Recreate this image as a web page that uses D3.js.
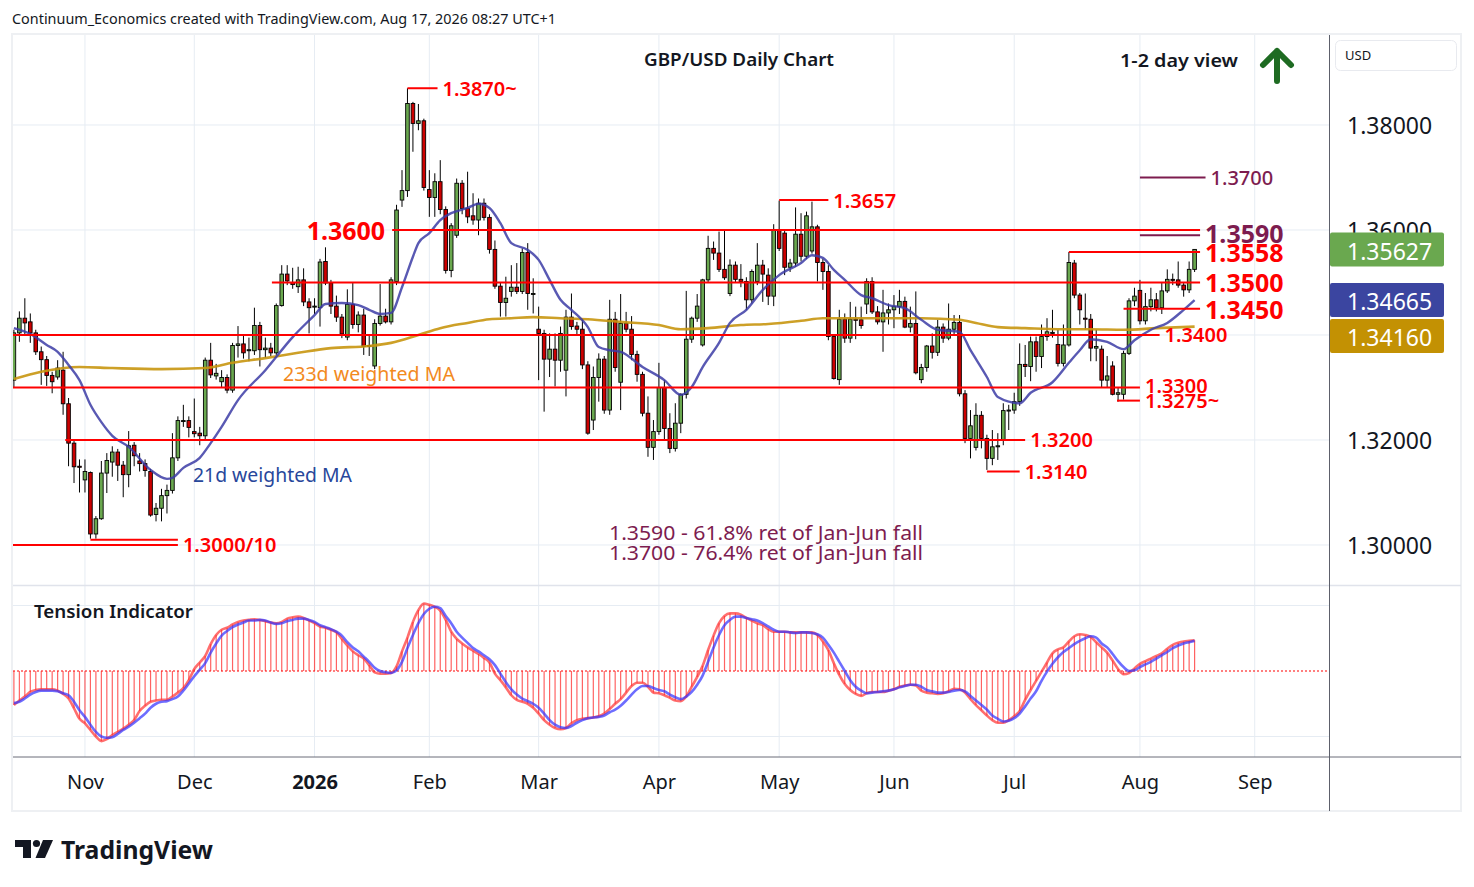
<!DOCTYPE html>
<html>
<head>
<meta charset="utf-8">
<script src="https://d3js.org/d3.v7.min.js"></script>
<style>
  body { margin: 0; background: #fff; }
  svg { display: block; font-family: "Noto Sans", "Open Sans", sans-serif; }
</style>
</head>
<body>
<div class="chart"></div>
<script>
// daily GBP/USD bars, Oct 15 2025 .. Aug 17 2026, [open, high, low, close]
const candles = [
[1.3314,1.3410,1.3300,1.3404],[1.3404,1.3445,1.3387,1.3432],[1.3432,1.3470,1.3400,1.3423],[1.3425,1.3441,1.3385,1.3404],
[1.3404,1.3410,1.3362,1.3368],[1.3368,1.3378,1.3305,1.3353],[1.3353,1.3360,1.3303,1.3323],[1.3323,1.3330,1.3289,1.3311],
[1.3320,1.3352,1.3315,1.3337],[1.3333,1.3368,1.3248,1.3269],[1.3269,1.3280,1.3150,1.3194],[1.3194,1.3200,1.3118,1.3149],
[1.3150,1.3163,1.3100,1.3148],[1.3124,1.3163,1.3100,1.3140],[1.3138,1.3140,1.3012,1.3021],[1.3021,1.3055,1.3012,1.3050],
[1.3050,1.3160,1.3048,1.3137],[1.3137,1.3175,1.3099,1.3161],[1.3158,1.3188,1.3130,1.3177],[1.3177,1.3183,1.3122,1.3152],
[1.3152,1.3160,1.3091,1.3134],[1.3134,1.3217,1.3110,1.3189],[1.3190,1.3196,1.3150,1.3170],[1.3160,1.3175,1.3140,1.3155],
[1.3155,1.3163,1.3130,1.3142],[1.3140,1.3145,1.3054,1.3057],[1.3058,1.3080,1.3045,1.3070],[1.3070,1.3107,1.3045,1.3094],
[1.3094,1.3115,1.3060,1.3104],[1.3104,1.3213,1.3098,1.3166],[1.3166,1.3245,1.3160,1.3237],[1.3237,1.3267,1.3225,1.3237],
[1.3237,1.3245,1.3205,1.3224],[1.3216,1.3279,1.3205,1.3212],[1.3213,1.3225,1.3190,1.3208],[1.3208,1.3357,1.3200,1.3352],
[1.3352,1.3385,1.3318,1.3324],[1.3322,1.3345,1.3315,1.3327],[1.3311,1.3333,1.3300,1.3319],[1.3319,1.3325,1.3289,1.3295],
[1.3295,1.3385,1.3290,1.3380],[1.3380,1.3417,1.3357,1.3383],[1.3383,1.3400,1.3355,1.3366],[1.3370,1.3395,1.3350,1.3372],
[1.3370,1.3452,1.3362,1.3418],[1.3418,1.3425,1.3340,1.3372],[1.3372,1.3395,1.3356,1.3375],[1.3375,1.3385,1.3360,1.3366],
[1.3366,1.3460,1.3362,1.3456],[1.3456,1.3533,1.3454,1.3516],[1.3516,1.3533,1.3495,1.3503],[1.3500,1.3528,1.3488,1.3496],
[1.3492,1.3530,1.3480,1.3505],[1.3505,1.3527,1.3455,1.3463],[1.3463,1.3470,1.3403,1.3452],[1.3455,1.3470,1.3440,1.3455],
[1.3452,1.3545,1.3416,1.3539],[1.3540,1.3567,1.3495,1.3499],[1.3499,1.3505,1.3440,1.3455],[1.3455,1.3475,1.3425,1.3434],
[1.3434,1.3440,1.3394,1.3402],[1.3396,1.3487,1.3390,1.3458],[1.3458,1.3499,1.3412,1.3420],[1.3420,1.3445,1.3405,1.3438],
[1.3438,1.3450,1.3362,1.3378],[1.3380,1.3400,1.3360,1.3378],[1.3341,1.3430,1.3335,1.3422],[1.3422,1.3497,1.3418,1.3436],
[1.3436,1.3450,1.3422,1.3425],[1.3425,1.3510,1.3420,1.3505],[1.3502,1.3648,1.3495,1.3638],[1.3657,1.3714,1.3644,1.3675],
[1.3675,1.3870,1.3663,1.3841],[1.3841,1.3844,1.3749,1.3803],[1.3803,1.3840,1.3790,1.3808],[1.3808,1.3812,1.3675,1.3681],
[1.3677,1.3714,1.3625,1.3662],[1.3662,1.3708,1.3625,1.3692],[1.3692,1.3733,1.3630,1.3639],[1.3639,1.3645,1.3517,1.3523],
[1.3523,1.3613,1.3510,1.3608],[1.3590,1.3698,1.3585,1.3689],[1.3689,1.3695,1.3630,1.3641],[1.3641,1.3711,1.3613,1.3625],
[1.3627,1.3670,1.3610,1.3619],[1.3619,1.3660,1.3590,1.3651],[1.3651,1.3660,1.3618,1.3624],[1.3624,1.3630,1.3555,1.3563],
[1.3563,1.3580,1.3488,1.3493],[1.3493,1.3500,1.3435,1.3462],[1.3462,1.3511,1.3435,1.3470],[1.3483,1.3533,1.3473,1.3491],
[1.3491,1.3537,1.3478,1.3483],[1.3483,1.3565,1.3478,1.3557],[1.3557,1.3575,1.3448,1.3479],[1.3479,1.3508,1.3441,1.3479],
[1.3411,1.3454,1.3314,1.3403],[1.3403,1.3410,1.3254,1.3354],[1.3354,1.3403,1.3320,1.3373],[1.3373,1.3403,1.3302,1.3352],
[1.3352,1.3416,1.3330,1.3403],[1.3333,1.3448,1.3283,1.3434],[1.3434,1.3479,1.3410,1.3416],[1.3417,1.3425,1.3400,1.3411],
[1.3411,1.3430,1.3335,1.3343],[1.3343,1.3350,1.3210,1.3213],[1.3238,1.3340,1.3219,1.3319],[1.3319,1.3365,1.3273,1.3354],
[1.3354,1.3360,1.3250,1.3257],[1.3257,1.3467,1.3248,1.3430],[1.3430,1.3444,1.3330,1.3338],[1.3310,1.3478,1.3257,1.3422],
[1.3422,1.3444,1.3405,1.3411],[1.3411,1.3436,1.3352,1.3363],[1.3363,1.3370,1.3311,1.3325],[1.3325,1.3330,1.3245,1.3251],
[1.3251,1.3283,1.3168,1.3186],[1.3186,1.3238,1.3162,1.3216],[1.3216,1.3347,1.3210,1.3300],[1.3300,1.3314,1.3200,1.3222],
[1.3222,1.3251,1.3175,1.3184],[1.3184,1.3270,1.3178,1.3232],[1.3232,1.3289,1.3213,1.3287],[1.3287,1.3484,1.3279,1.3392],
[1.3392,1.3435,1.3385,1.3432],[1.3432,1.3478,1.3425,1.3455],[1.3381,1.3507,1.3378,1.3505],[1.3505,1.3589,1.3500,1.3565],
[1.3565,1.3578,1.3543,1.3556],[1.3556,1.3597,1.3520,1.3525],[1.3525,1.3600,1.3505,1.3509],[1.3479,1.3544,1.3474,1.3533],
[1.3533,1.3540,1.3500,1.3506],[1.3506,1.3535,1.3491,1.3502],[1.3502,1.3510,1.3448,1.3467],[1.3467,1.3525,1.3460,1.3521],
[1.3502,1.3575,1.3495,1.3533],[1.3533,1.3543,1.3463,1.3516],[1.3514,1.3527,1.3457,1.3474],[1.3474,1.3611,1.3455,1.3601],
[1.3601,1.3656,1.3560,1.3565],[1.3594,1.3601,1.3514,1.3529],[1.3529,1.3545,1.3520,1.3537],[1.3537,1.3643,1.3530,1.3592],
[1.3592,1.3632,1.3540,1.3550],[1.3550,1.3635,1.3545,1.3627],[1.3560,1.3654,1.3555,1.3606],[1.3606,1.3610,1.3502,1.3538],
[1.3538,1.3545,1.3486,1.3521],[1.3521,1.3533,1.3390,1.3397],[1.3397,1.3400,1.3315,1.3317],[1.3315,1.3448,1.3305,1.3430],
[1.3430,1.3441,1.3385,1.3394],[1.3394,1.3463,1.3385,1.3430],[1.3430,1.3454,1.3392,1.3428],[1.3429,1.3454,1.3412,1.3418],
[1.3459,1.3508,1.3440,1.3502],[1.3502,1.3510,1.3440,1.3444],[1.3444,1.3455,1.3420,1.3425],[1.3425,1.3486,1.3368,1.3442],
[1.3442,1.3460,1.3420,1.3448],[1.3448,1.3476,1.3413,1.3454],[1.3454,1.3486,1.3440,1.3464],[1.3464,1.3473,1.3413,1.3415],
[1.3415,1.3454,1.3405,1.3422],[1.3422,1.3483,1.3325,1.3328],[1.3315,1.3345,1.3308,1.3338],[1.3338,1.3381,1.3330,1.3379],
[1.3379,1.3403,1.3355,1.3367],[1.3367,1.3429,1.3360,1.3415],[1.3415,1.3422,1.3385,1.3394],[1.3394,1.3460,1.3390,1.3411],
[1.3411,1.3438,1.3400,1.3424],[1.3424,1.3438,1.3283,1.3288],[1.3288,1.3295,1.3194,1.3203],[1.3203,1.3257,1.3165,1.3227],
[1.3186,1.3270,1.3180,1.3247],[1.3247,1.3255,1.3184,1.3203],[1.3203,1.3210,1.3143,1.3165],[1.3165,1.3219,1.3152,1.3187],
[1.3187,1.3213,1.3162,1.3189],[1.3200,1.3270,1.3190,1.3256],[1.3256,1.3267,1.3219,1.3257],[1.3257,1.3290,1.3250,1.3273],
[1.3273,1.3384,1.3265,1.3344],[1.3344,1.3381,1.3320,1.3340],[1.3340,1.3397,1.3312,1.3387],[1.3387,1.3397,1.3330,1.3359],
[1.3359,1.3420,1.3337,1.3397],[1.3397,1.3432,1.3389,1.3406],[1.3403,1.3448,1.3395,1.3405],[1.3382,1.3410,1.3340,1.3346],
[1.3346,1.3420,1.3340,1.3381],[1.3381,1.3558,1.3378,1.3538],[1.3537,1.3543,1.3470,1.3476],[1.3476,1.3480,1.3420,1.3448],
[1.3432,1.3479,1.3410,1.3430],[1.3430,1.3440,1.3350,1.3375],[1.3375,1.3410,1.3350,1.3378],[1.3373,1.3380,1.3300,1.3314],
[1.3314,1.3360,1.3300,1.3322],[1.3341,1.3350,1.3285,1.3287],[1.3287,1.3300,1.3273,1.3290],[1.3287,1.3370,1.3277,1.3365],
[1.3365,1.3470,1.3362,1.3465],[1.3465,1.3490,1.3455,1.3474],[1.3485,1.3505,1.3420,1.3427],[1.3427,1.3480,1.3420,1.3454],
[1.3454,1.3490,1.3445,1.3467],[1.3467,1.3480,1.3445,1.3452],[1.3452,1.3500,1.3440,1.3484],[1.3484,1.3525,1.3480,1.3506],
[1.3506,1.3517,1.3495,1.3505],[1.3505,1.3540,1.3490,1.3495],[1.3495,1.3500,1.3473,1.3486],[1.3486,1.3540,1.3480,1.3525],
[1.3525,1.3563,1.3520,1.3563]
];

// 21d and 233d weighted moving averages, [bar, value]
const wma21 = [[0,1.3413],[3,1.3402],[6,1.3381],[8,1.3368],[10,1.3343],[12,1.3314],[14,1.3267],[16,1.3234],[18,1.3208],
[21,1.3187],[25,1.3143],[28,1.3126],[29,1.3128],[31,1.3147],[34,1.3166],[36,1.3194],[38,1.3225],[41,1.3276],[46,1.3333],
[51,1.3396],[55,1.3438],[57,1.3459],[60,1.3461],[63,1.3457],[65,1.3448],[67,1.3440],[69,1.3442],[71,1.3491],[73,1.3549],
[74,1.3575],[76,1.3594],[78,1.3619],[80,1.3632],[83,1.3642],[85,1.3650],[87,1.3642],[89,1.3613],[91,1.3575],[94,1.3562],
[96,1.3543],[98,1.3505],[100,1.3467],[102,1.3448],[105,1.3415],[107,1.3377],[109,1.3371],[111,1.3368],[115,1.3339],
[119,1.3314],[122,1.3286],[124,1.3301],[126,1.3339],[129,1.3385],[131,1.3423],[134,1.3448],[137,1.3486],[140,1.3514],
[144,1.3537],[146,1.3552],[148,1.3547],[150,1.3524],[152,1.3505],[155,1.3476],[157,1.3470],[160,1.3457],[163,1.3451],
[166,1.3429],[169,1.3410],[173,1.3406],[175,1.3371],[178,1.3320],[180,1.3282],[184,1.3270],[186,1.3290],[190,1.3310],
[193,1.3347],[195,1.3371],[197,1.3392],[200,1.3387],[203,1.3373],[205,1.3390],[208,1.3410],[211,1.3423],[214,1.3448],[216,1.34665]];
const wma233 = [[0,1.3316],[5,1.3330],[12,1.3339],[18,1.3337],[27,1.3335],[35,1.3337],[40,1.3347],[46,1.3356],[52,1.3366],
[58,1.3375],[65,1.3379],[69,1.3385],[74,1.3400],[78,1.3413],[83,1.3423],[87,1.3430],[91,1.3432],[95,1.3434],[100,1.3432],
[105,1.3430],[111,1.3425],[118,1.3419],[122,1.3411],[127,1.3413],[133,1.3419],[138,1.3421],[144,1.3427],[148,1.3432],
[154,1.3432],[160,1.3432],[166,1.3432],[173,1.3429],[176,1.3423],[180,1.3415],[185,1.3413],[191,1.3411],[197,1.3411],
[203,1.3410],[209,1.3413],[216,1.3416]];

// tension indicator (histogram) and its signal line, one value per bar
const tension = [-52,-45,-39,-32,-29,-28,-28,-28,-30,-35,-42,-57,-73,-80,-90,-100,-107,-104,-98,-93,
-88,-82,-75,-61,-53,-47,-45,-44,-44,-39,-33,-26,-14,3,13,23,41,55,63,66,
71,75,77,78,79,78,76,74,73,75,80,82,83,81,77,73,68,66,63,59,
49,39,30,24,19,9,-2,-4,-4,-3,7,30,51,75,93,103,101,98,92,78,
60,49,42,36,31,26,20,13,-4,-14,-25,-37,-44,-47,-50,-56,-65,-75,-82,-87,
-89,-87,-80,-75,-73,-72,-71,-69,-65,-58,-50,-43,-33,-23,-18,-18,-24,-33,-34,-37,
-41,-45,-46,-39,-24,-9,8,32,54,73,84,88,88,86,81,77,73,70,64,60,
60,60,59,59,59,59,59,55,45,32,12,-6,-20,-29,-35,-38,-34,-32,-32,-32,
-30,-28,-24,-22,-21,-22,-30,-33,-34,-35,-34,-31,-27,-28,-33,-43,-52,-60,-68,-75,
-79,-79,-75,-69,-61,-44,-29,-15,-1,13,27,33,36,45,53,56,55,52,44,36,
28,16,3,-5,-3,4,11,15,19,23,27,34,40,43,45,46,47];
const signal = [-49,-47,-42,-36,-32,-30,-30,-30,-31,-34,-37,-47,-60,-70,-82,-93,-100,-102,-101,-96,
-90,-85,-79,-72,-65,-56,-50,-47,-46,-43,-39,-30,-19,-8,2,12,28,42,54,61,
67,71,74,77,77,78,77,74,72,73,76,78,80,80,78,75,70,67,64,60,
54,44,36,30,22,14,5,0,-2,-3,1,14,35,55,73,87,95,98,96,84,
73,60,51,43,35,30,24,18,9,-4,-17,-28,-36,-42,-46,-50,-56,-65,-75,-82,
-86,-87,-84,-79,-75,-72,-71,-70,-68,-63,-59,-53,-45,-36,-28,-23,-23,-26,-29,-31,
-36,-40,-43,-39,-32,-21,-7,14,36,55,70,78,83,83,81,79,77,73,68,63,
60,60,59,58,59,59,58,56,51,40,28,14,0,-14,-24,-30,-34,-33,-32,-31,
-30,-28,-25,-23,-21,-21,-24,-29,-31,-33,-33,-32,-30,-29,-31,-38,-45,-52,-59,-68,
-73,-77,-76,-72,-65,-54,-42,-31,-15,-1,11,21,29,35,41,46,50,53,51,42,
36,26,15,6,0,1,6,10,14,19,24,29,35,39,42,44,46];

// time axis: label and the bar it sits on
const monthTicks = [["Nov",13],["Dec",33],["2026",55],["Feb",76],["Mar",96],["Apr",118],
  ["May",140],["Jun",161],["Jul",183],["Aug",206],["Sep",227]];
const priceTicks = [1.30, 1.32, 1.36, 1.38];
const gridPrices = [1.30, 1.32, 1.34, 1.36, 1.38];

// drawn support / resistance levels (from / to are bar numbers)
const levels = [
  {price: 1.3870, from: 72, to: 77.5, label: "1.3870~", kind: "red"},
  {price: 1.3657, from: 140, to: 149, label: "1.3657", kind: "red"},
  {price: 1.3600, from: 69.2, to: 217, label: "1.3600", kind: "bigLeft"},
  {price: 1.3700, from: 206, to: 218, label: "1.3700", kind: "purple"},
  {price: 1.3590, from: 206, to: 217, label: "1.3590", kind: "purpleBig"},
  {price: 1.3558, from: 193, to: 217, label: "1.3558", kind: "big"},
  {price: 1.3500, from: 47.2, to: 217, label: "1.3500", kind: "big"},
  {price: 1.3450, from: 203, to: 217, label: "1.3450", kind: "big"},
  {price: 1.3400, from: -1, to: 209.6, label: "1.3400", kind: "red"},
  {price: 1.3300, from: -1, to: 206, label: "1.3300", kind: "red"},
  {price: 1.3275, from: 201.8, to: 206, label: "1.3275~", kind: "red"},
  {price: 1.3200, from: 9.4, to: 185, label: "1.3200", kind: "red"},
  {price: 1.3140, from: 178, to: 184, label: "1.3140", kind: "red"},
  {price: 1.3010, from: 14, to: 30, label: "", kind: "red"},
  {price: 1.3000, from: -1, to: 30, label: "1.3000/10", kind: "red"}
];
const notes = ["1.3590 - 61.8% ret of Jan-Jun fall", "1.3700 - 76.4% ret of Jan-Jun fall"];
const lastValues = [
  {value: 1.35627, color: "#6aa84f"},
  {value: 1.34665, color: "#3b45a0"},
  {value: 1.34160, color: "#c39103"}
];

const RED = "#ff0000", PURPLE = "#7d1c4f", INK = "#131722";

const svg = d3.select(".chart").append("svg")
  .attr("width", 1474).attr("height", 887);

const pane = {left: 13, right: 1329, top: 35, bottom: 585, subBottom: 757};

const x = d3.scaleLinear().domain([0, 216]).range([13.9, 1194.6]);
const y = d3.scaleLinear().domain([1.29238, 1.39714]).range([585, 35]);
const yt = d3.scaleLinear().domain([-100, 100]).range([736.5, 605.5]);

svg.append("defs").append("clipPath").attr("id", "mainClip")
  .append("rect").attr("x", pane.left).attr("y", pane.top)
  .attr("width", pane.right - pane.left).attr("height", pane.bottom - pane.top);
svg.select("defs").append("clipPath").attr("id", "subClip")
  .append("rect").attr("x", pane.left).attr("y", pane.bottom)
  .attr("width", pane.right - pane.left).attr("height", pane.subBottom - pane.bottom);

// header text
svg.append("text").text("Continuum_Economics created with TradingView.com, Aug 17, 2026 08:27 UTC+1")
  .attr("x", 12).attr("y", 24).attr("font-size", 14).attr("fill", INK)
  .attr("textLength", 544).attr("lengthAdjust", "spacingAndGlyphs");

// frame
svg.append("rect").attr("x", 12).attr("y", 34).attr("width", 1449).attr("height", 777)
  .attr("fill", "none").attr("stroke", "#eef0f3").attr("stroke-width", 2);

// grid
svg.append("g").selectAll("line").data(monthTicks).enter().append("line")
  .attr("x1", d => x(d[1])).attr("x2", d => x(d[1]))
  .attr("y1", pane.top).attr("y2", pane.subBottom)
  .attr("stroke", "#e6ecf3").attr("stroke-width", 1);
svg.append("g").selectAll("line").data(gridPrices).enter().append("line")
  .attr("x1", pane.left).attr("x2", pane.right)
  .attr("y1", d => y(d)).attr("y2", d => y(d))
  .attr("stroke", "#e6ecf3").attr("stroke-width", 1);
svg.append("g").selectAll("line").data([100, -100]).enter().append("line")
  .attr("x1", pane.left).attr("x2", pane.right)
  .attr("y1", d => yt(d)).attr("y2", d => yt(d))
  .attr("stroke", "#e6ecf3").attr("stroke-width", 1);

// pane separators
svg.append("line").attr("x1", pane.left).attr("x2", 1461).attr("y1", 585.5).attr("y2", 585.5)
  .attr("stroke", "#e0e3eb").attr("stroke-width", 1.5);
svg.append("line").attr("x1", pane.left).attr("x2", 1461).attr("y1", 757).attr("y2", 757)
  .attr("stroke", "#6a6d78").attr("stroke-width", 1);
svg.append("line").attr("x1", 1329.5).attr("x2", 1329.5).attr("y1", 35).attr("y2", 811)
  .attr("stroke", "#5d606b").attr("stroke-width", 1);

// candles
const main = svg.append("g").attr("clip-path", "url(#mainClip)");
const bars = main.selectAll("g.candle").data(candles).enter().append("g").attr("class", "candle");
bars.append("line")
  .attr("x1", (d, i) => x(i)).attr("x2", (d, i) => x(i))
  .attr("y1", d => y(d[1])).attr("y2", d => y(d[2]))
  .attr("stroke", "#000").attr("stroke-width", 1);
bars.append("rect")
  .attr("x", (d, i) => x(i) - 1.8).attr("width", 3.6)
  .attr("y", d => y(Math.max(d[0], d[3])))
  .attr("height", d => Math.max(1, Math.abs(y(d[0]) - y(d[3]))))
  .attr("fill", d => d[3] >= d[0] ? "#6aa84f" : "#cc0000")
  .attr("stroke", "#000").attr("stroke-width", 0.9);

// moving averages
const maLine = d3.line().x(d => x(d[0])).y(d => y(d[1])).curve(d3.curveMonotoneX);
main.append("path").attr("d", maLine(wma233)).attr("fill", "none")
  .attr("stroke", "#c8960f").attr("stroke-width", 2.6).attr("stroke-opacity", 0.9);
main.append("path").attr("d", maLine(wma21)).attr("fill", "none")
  .attr("stroke", "#3c3ca6").attr("stroke-width", 2.4).attr("stroke-opacity", 0.85);

// levels
main.append("g").selectAll("line").data(levels).enter().append("line")
  .attr("x1", d => x(d.from)).attr("x2", d => x(d.to))
  .attr("y1", d => y(d.price)).attr("y2", d => y(d.price))
  .attr("stroke", d => d.kind.startsWith("purple") ? PURPLE : RED)
  .attr("stroke-width", 2);

const labelSize = {red: 20, purple: 20, big: 25, bigLeft: 25, purpleBig: 25};
const labelShift = {"1.3300": -2, "1.3590": -2};
main.append("g").selectAll("text").data(levels.filter(d => d.label)).enter().append("text")
  .text(d => d.label)
  .attr("x", d => d.kind === "bigLeft" ? x(d.from) - 7 : x(d.to) + 5)
  .attr("y", d => y(d.price) + (labelShift[d.label] || 0))
  .attr("text-anchor", d => d.kind === "bigLeft" ? "end" : "start")
  .attr("dominant-baseline", "central")
  .attr("font-size", d => labelSize[d.kind])
  .attr("font-weight", d => labelSize[d.kind] > 20 ? "bold" : (d.kind === "purple" ? 500 : 600))
  .attr("fill", d => d.kind.startsWith("purple") ? PURPLE : RED);

// notes and series labels
svg.append("g").selectAll("text").data(notes).enter().append("text")
  .text(d => d).attr("x", 609).attr("y", (d, i) => 532 + i * 20)
  .attr("dominant-baseline", "central")
  .attr("font-size", 20).attr("fill", PURPLE)
  .attr("textLength", 314).attr("lengthAdjust", "spacingAndGlyphs");
svg.append("text").text("233d weighted MA").attr("x", 283).attr("y", 374)
  .attr("dominant-baseline", "central").attr("font-size", 19).attr("fill", "#f28a1e")
  .attr("textLength", 172).attr("lengthAdjust", "spacingAndGlyphs");
svg.append("text").text("21d weighted MA").attr("x", 193).attr("y", 475)
  .attr("dominant-baseline", "central").attr("font-size", 19).attr("fill", "#28479b")
  .attr("textLength", 159).attr("lengthAdjust", "spacingAndGlyphs");

// title, view and arrow
svg.append("text").text("GBP/USD Daily Chart").attr("x", 644).attr("y", 58)
  .attr("dominant-baseline", "central")
  .attr("font-size", 18.5).attr("font-weight", 600).attr("fill", INK)
  .attr("textLength", 190).attr("lengthAdjust", "spacingAndGlyphs");
svg.append("text").text("1-2 day view").attr("x", 1120).attr("y", 59)
  .attr("dominant-baseline", "central")
  .attr("font-size", 18.5).attr("font-weight", 600).attr("fill", INK)
  .attr("textLength", 118).attr("lengthAdjust", "spacingAndGlyphs");
svg.append("path").attr("d", "M1277,81 V51 M1263,65 L1277,51 L1291,65")
  .attr("fill", "none").attr("stroke", "#1e6b22").attr("stroke-width", 6)
  .attr("stroke-linecap", "round").attr("stroke-linejoin", "round");

// tension indicator
const sub = svg.append("g").attr("clip-path", "url(#subClip)");
sub.append("line").attr("x1", pane.left).attr("x2", pane.right)
  .attr("y1", yt(0)).attr("y2", yt(0))
  .attr("stroke", RED).attr("stroke-width", 1.2).attr("stroke-dasharray", "2,2");
sub.append("g").selectAll("line").data(tension).enter().append("line")
  .attr("x1", (d, i) => x(i)).attr("x2", (d, i) => x(i))
  .attr("y1", yt(0)).attr("y2", d => yt(d))
  .attr("stroke", "#ff2020").attr("stroke-opacity", 0.7).attr("stroke-width", 1.2);
const tLine = d3.line().x((d, i) => x(i)).y(d => yt(d)).curve(d3.curveMonotoneX);
sub.append("path").attr("d", tLine(tension)).attr("fill", "none")
  .attr("stroke", "#ff3030").attr("stroke-opacity", 0.7).attr("stroke-width", 2.6);
sub.append("path").attr("d", tLine(signal)).attr("fill", "none")
  .attr("stroke", "#3535ff").attr("stroke-opacity", 0.72).attr("stroke-width", 2.6);
svg.append("text").text("Tension Indicator").attr("x", 34).attr("y", 610)
  .attr("dominant-baseline", "central").attr("font-size", 18.5).attr("font-weight", 600).attr("fill", INK)
  .attr("textLength", 159).attr("lengthAdjust", "spacingAndGlyphs");

// time axis
const xAxis = d3.axisBottom(x)
  .tickValues(monthTicks.map(d => d[1]))
  .tickFormat((d, i) => monthTicks[i][0])
  .tickSize(0).tickPadding(0);
const xg = svg.append("g").attr("transform", "translate(0,781)").call(xAxis);
xg.select(".domain").remove();
xg.selectAll("text").attr("dy", null).attr("dominant-baseline", "central")
  .attr("font-size", 20).attr("font-family", "Noto Sans, sans-serif").attr("fill", INK)
  .attr("font-weight", d => d === 55 ? "bold" : "normal");

// price axis
const yAxis = d3.axisRight(y).tickValues(priceTicks).tickFormat(d3.format(".5f"))
  .tickSize(0).tickPadding(0);
const yg = svg.append("g").attr("transform", "translate(1347,0)").call(yAxis);
yg.select(".domain").remove();
yg.selectAll("text").attr("dy", null).attr("dominant-baseline", "central")
  .attr("font-size", 23).attr("font-family", "Noto Sans, sans-serif").attr("fill", INK);

// currency box
svg.append("rect").attr("x", 1335.5).attr("y", 40.5).attr("width", 121).attr("height", 30)
  .attr("rx", 5).attr("fill", "#fff").attr("stroke", "#e8eaef");
svg.append("text").text("USD").attr("x", 1345).attr("y", 55).attr("dominant-baseline", "central")
  .attr("font-size", 13).attr("fill", INK);

// last value badges (the gold one is pushed down to clear the blue one)
const badgeY = [y(lastValues[0].value), y(lastValues[1].value), Math.max(y(lastValues[2].value), y(lastValues[1].value) + 36)];
const badges = svg.append("g").selectAll("g").data(lastValues).enter().append("g");
badges.append("rect").attr("x", 1330).attr("width", 114).attr("height", 34)
  .attr("y", (d, i) => badgeY[i] - 17).attr("rx", 2).attr("fill", d => d.color);
badges.append("text").text(d => d3.format(".5f")(d.value))
  .attr("x", 1347).attr("y", (d, i) => badgeY[i] + 1)
  .attr("dominant-baseline", "central").attr("font-size", 23).attr("fill", "#fff");

// TradingView mark
const logo = svg.append("g").attr("fill", INK);
logo.append("path").attr("d", "M15,840 H31 V858 H23 V847 H15 Z");
logo.append("circle").attr("cx", 36.5).attr("cy", 843.5).attr("r", 3.6);
logo.append("path").attr("d", "M43,840 H53 L45,858 H35.5 Z");
logo.append("text").text("TradingView").attr("x", 61).attr("y", 859)
  .attr("font-size", 25).attr("font-weight", "bold")
  .attr("textLength", 152).attr("lengthAdjust", "spacingAndGlyphs");
</script>
</body>
</html>
